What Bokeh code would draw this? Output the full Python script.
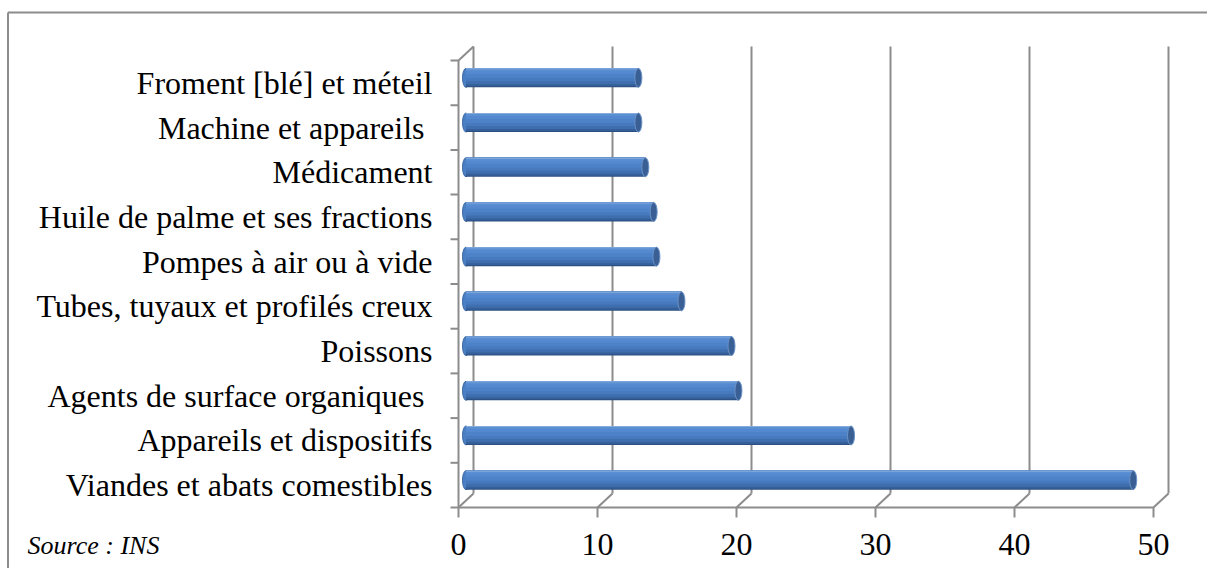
import math
from bokeh.plotting import figure
from bokeh.models import Range1d
from bokeh.core.properties import value
from bokeh.embed import file_html
from bokeh.resources import INLINE

# ---------------- data ----------------
categories = [
    "Viandes et abats comestibles",
    "Appareils et dispositifs",
    "Agents de surface organiques ",
    "Poissons",
    "Tubes, tuyaux et profilés creux",
    "Pompes à air ou à vide",
    "Huile de palme et ses fractions",
    "Médicament",
    "Machine et appareils ",
    "Froment [blé] et méteil",
]
values = [48.0, 27.7, 19.6, 19.1, 15.5, 13.7, 13.5, 12.9, 12.4, 12.4]
x_ticks = [0, 10, 20, 30, 40, 50]
x_tick_labels = ["0", "10", "20", "30", "40", "50"]
source_note = "Source : INS"

# ---------------- layout (screen geometry) ----------------
W, H = 1207, 568
PX_X = 13.9     # pixels per unit of value
PX_Y = 44.7     # pixels per category band
ORIGIN_X = 458  # canvas x of value 0 (front plane)
ORIGIN_Y = 507  # canvas y (from top) of the floor (front plane)
DEPTH_X = 15    # 3-D depth offset, pixels
DEPTH_Y = 14

x0 = -ORIGIN_X / PX_X
x1 = (W - ORIGIN_X) / PX_X
y1 = ORIGIN_Y / PX_Y
y0 = -(H - ORIGIN_Y) / PX_Y
dx = DEPTH_X / PX_X
dy = DEPTH_Y / PX_Y
n = len(categories)
xmax = x_ticks[-1]

p = figure(width=W, height=H, output_backend="svg", toolbar_location=None,
           x_range=Range1d(x0, x1), y_range=Range1d(y0, y1),
           x_axis_location=None, y_axis_location=None,
           min_border=0, outline_line_color=None,
           background_fill_color="white", border_fill_color="white")
p.grid.visible = False

GRID = "#8c8c8c"
LW = 2

# outer chart border (left and top edges visible)
top_border_y = (ORIGIN_Y - 12) / PX_Y
left_border_x = x0 + 7.5 / PX_X
p.segment(x0=[left_border_x, left_border_x], y0=[top_border_y, top_border_y],
          x1=[x1, left_border_x], y1=[top_border_y, y0],
          line_color=GRID, line_width=LW)

# back-wall gridlines
p.segment(x0=[t + dx for t in x_ticks], y0=[dy] * len(x_ticks),
          x1=[t + dx for t in x_ticks], y1=[n + dy] * len(x_ticks),
          line_color=GRID, line_width=LW)
# floor connectors (front tick -> back gridline)
p.segment(x0=x_ticks, y0=[0] * len(x_ticks),
          x1=[t + dx for t in x_ticks], y1=[dy] * len(x_ticks),
          line_color=GRID, line_width=LW)
# front floor edge
p.segment(x0=[0], y0=[0], x1=[xmax], y1=[0], line_color=GRID, line_width=LW)
# tick marks under floor
p.ray(x=x_ticks, y=[0] * len(x_ticks), length=10, length_units="screen",
      angle=-math.pi / 2, line_color=GRID, line_width=LW)
# left wall: front edge, top connector
p.segment(x0=[0, 0], y0=[0, n], x1=[0, dx], y1=[n, n + dy],
          line_color=GRID, line_width=LW)
# left wall category ticks
p.ray(x=[0] * (n + 1), y=list(range(n + 1)), length=8, length_units="screen",
      angle=math.pi, line_color=GRID, line_width=LW)

# ---------------- cylinder bars ----------------
BAR_PX = 19
bar_h = BAR_PX / PX_Y
bar_shift = 5 / PX_Y
yc = [i + 0.5 + bar_shift for i in range(n)]
left = [dx / 2] * n
right = [v + dx / 2 for v in values]

# left rounded end
p.ellipse(x=left, y=yc, width=7, height=BAR_PX, width_units="screen",
          height_units="screen", fill_color="#4a7fc4", line_color="#3d69a3",
          line_width=1)

# gradient body: (pixel rows from bar top, colour), drawn bottom-up
stripes = [
    (19, "#2b4f80"),
    (18, "#355f98"),
    (16, "#3f6eae"),
    (13, "#4679bd"),
    (10, "#4d82c8"),
    (6, "#5589cf"),
    (3, "#5b8fd4"),
    (1, "#86acdc"),
]
for depth_px, col in stripes:
    h = depth_px / PX_Y
    ys = [c + bar_h / 2 - h / 2 for c in yc]
    p.hbar(y=ys, left=left, right=right, height=h, fill_color=col,
           line_color=None)

# right end cap
p.ellipse(x=right, y=yc, width=7, height=BAR_PX, width_units="screen",
          height_units="screen", fill_color="#395f95", line_color="#6b92c6",
          line_width=1)

# ---------------- texts ----------------
FONT = value("Liberation Serif")
p.text(x=[0] * n, y=[i + 0.5 for i in range(n)], text=categories,
       x_offset=-26, text_align="right", text_baseline="middle",
       text_font=FONT, text_font_size="32px", text_color="black")
p.text(x=x_ticks, y=[0] * len(x_ticks), text=x_tick_labels,
       y_offset=37, text_align="center", text_baseline="middle",
       text_font=FONT, text_font_size="32px", text_color="black")
p.text(x=[0], y=[0], text=[source_note], x_offset=-431, y_offset=38,
       text_align="left", text_baseline="middle", text_font=FONT,
       text_font_style="italic", text_font_size="26px", text_color="black")

open("out.html", "w").write(file_html(p, INLINE))
